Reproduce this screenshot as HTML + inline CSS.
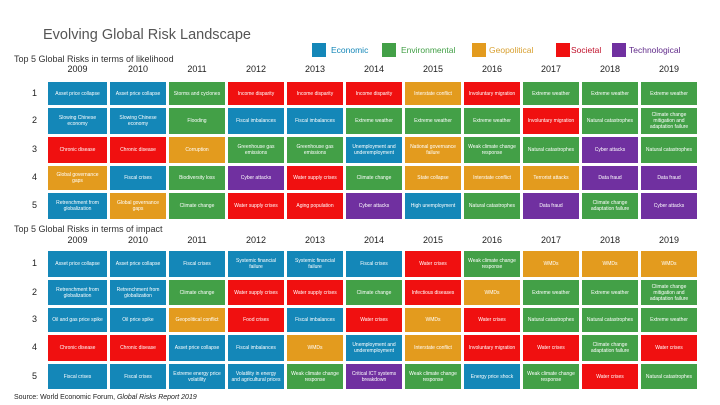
<!DOCTYPE html>
<html><head><meta charset="utf-8">
<style>
body{margin:0;width:720px;height:405px;background:#fff;position:relative;overflow:hidden;font-family:"Liberation Sans",sans-serif;}
.abs{position:absolute;}
.cell{position:absolute;display:flex;align-items:center;justify-content:center;text-align:center;color:#fff;font-size:5px;line-height:6px;padding:0 3px;box-sizing:border-box;}
.yr{position:absolute;font-size:9px;color:#222;width:56px;text-align:center;}
.rk{position:absolute;font-size:9px;color:#222;left:32px;}
.lb{position:absolute;top:43px;width:14px;height:14px;}
.lt{position:absolute;top:43px;font-size:8.5px;line-height:14px;}
</style></head><body>
<div class="abs" style="left:43px;top:27px;font-size:14.5px;color:#555;">Evolving Global Risk Landscape</div>
<div class="lb" style="left:312px;background:#1487b8"></div>
<div class="lt" style="left:331px;color:#1487b8">Economic</div>
<div class="lb" style="left:382px;background:#43a047"></div>
<div class="lt" style="left:401px;color:#43a047">Environmental</div>
<div class="lb" style="left:472px;background:#e39b1e"></div>
<div class="lt" style="left:489px;color:#d8a030">Geopolitical</div>
<div class="lb" style="left:556px;background:#f01010"></div>
<div class="lt" style="left:571px;color:#c0102a">Societal</div>
<div class="lb" style="left:612px;background:#7030a0"></div>
<div class="lt" style="left:629px;color:#602a8a">Technological</div>
<div class="abs" style="left:14px;top:54px;font-size:9px;color:#333;">Top 5 Global Risks in terms of likelihood</div>
<div class="abs" style="left:14px;top:224px;font-size:9px;color:#333;">Top 5 Global Risks in terms of impact</div>
<div class="abs" style="left:14px;top:394px;font-size:7px;color:#222;">Source: World Economic Forum, <i>Global Risks Report 2019</i></div>
<div id="grid"></div>
<script>
const years=["2009","2010","2011","2012","2013","2014","2015","2016","2017","2018","2019"];
const likelihood=[
[["Asset price collapse","E"],["Slowing Chinese economy","E"],["Chronic disease","S"],["Global governance gaps","G"],["Retrenchment from globalization","E"]],
[["Asset price collapse","E"],["Slowing Chinese economy","E"],["Chronic disease","S"],["Fiscal crises","E"],["Global governance gaps","G"]],
[["Storms and cyclones","N"],["Flooding","N"],["Corruption","G"],["Biodiversity loss","N"],["Climate change","N"]],
[["Income disparity","S"],["Fiscal imbalances","E"],["Greenhouse gas emissions","N"],["Cyber attacks","T"],["Water supply crises","S"]],
[["Income disparity","S"],["Fiscal imbalances","E"],["Greenhouse gas emissions","N"],["Water supply crises","S"],["Aging population","S"]],
[["Income disparity","S"],["Extreme weather","N"],["Unemployment and underemployment","E"],["Climate change","N"],["Cyber attacks","T"]],
[["Interstate conflict","G"],["Extreme weather","N"],["National governance failure","G"],["State collapse","G"],["High unemployment","E"]],
[["Involuntary migration","S"],["Extreme weather","N"],["Weak climate change response","N"],["Interstate conflict","G"],["Natural catastrophes","N"]],
[["Extreme weather","N"],["Involuntary migration","S"],["Natural catastrophes","N"],["Terrorist attacks","G"],["Data fraud","T"]],
[["Extreme weather","N"],["Natural catastrophes","N"],["Cyber attacks","T"],["Data fraud","T"],["Climate change adaptation failure","N"]],
[["Extreme weather","N"],["Climate change mitigation and adaptation failure","N"],["Natural catastrophes","N"],["Data fraud","T"],["Cyber attacks","T"]]];
const impact=[
[["Asset price collapse","E"],["Retrenchment from globalization","E"],["Oil and gas price spike","E"],["Chronic disease","S"],["Fiscal crises","E"]],
[["Asset price collapse","E"],["Retrenchment from globalization","E"],["Oil price spike","E"],["Chronic disease","S"],["Fiscal crises","E"]],
[["Fiscal crises","E"],["Climate change","N"],["Geopolitical conflict","G"],["Asset price collapse","E"],["Extreme energy price volatility","E"]],
[["Systemic financial failure","E"],["Water supply crises","S"],["Food crises","S"],["Fiscal imbalances","E"],["Volatility in energy and agricultural prices","E"]],
[["Systemic financial failure","E"],["Water supply crises","S"],["Fiscal imbalances","E"],["WMDs","G"],["Weak climate change response","N"]],
[["Fiscal crises","E"],["Climate change","N"],["Water crises","S"],["Unemployment and underemployment","E"],["Critical ICT systems breakdown","T"]],
[["Water crises","S"],["Infectious diseases","S"],["WMDs","G"],["Interstate conflict","G"],["Weak climate change response","N"]],
[["Weak climate change response","N"],["WMDs","G"],["Water crises","S"],["Involuntary migration","S"],["Energy price shock","E"]],
[["WMDs","G"],["Extreme weather","N"],["Natural catastrophes","N"],["Water crises","S"],["Weak climate change response","N"]],
[["WMDs","G"],["Extreme weather","N"],["Natural catastrophes","N"],["Climate change adaptation failure","N"],["Water crises","S"]],
[["WMDs","G"],["Climate change mitigation and adaptation failure","N"],["Extreme weather","N"],["Water crises","S"],["Natural catastrophes","N"]]];
const colors={E:"#1487b8",N:"#43a047",G:"#e39b1e",S:"#f01010",T:"#7030a0"};
const g=document.getElementById('grid');
function colX(i){return i===0?48:110+59*(i-1);}
function colW(i){return i===0?59:56;}
function panel(data,yearTop,rowTops,rowHs,key){
  years.forEach((y,i)=>{
    const d=document.createElement('div');d.className='yr';
    
    
    d.style.left=(colX(i)+colW(i)/2-28)+'px';d.style.top=yearTop+'px';d.textContent=y;g.appendChild(d);
  });
  rowTops.forEach((t,r)=>{
    const d=document.createElement('div');d.className='rk';
    
    
    d.style.top=(t+rowHs[r]/2-6)+'px';d.textContent=r+1;g.appendChild(d);
  });
  data.forEach((col,i)=>col.forEach((c,r)=>{
    const d=document.createElement('div');d.className='cell';
    
    
    d.style.left=colX(i)+'px';d.style.width=colW(i)+'px';
    d.style.top=rowTops[r]+'px';d.style.height=rowHs[r]+'px';
    d.style.background=colors[c[1]];d.textContent=c[0];g.appendChild(d);
  }));
}
panel(likelihood,64,[82,108,137,166,193],[23,26,26,24,26],'likelihood');
panel(impact,235,[251,280,308,335,364],[26,25,24,26,25],'impact');
</script>
</body></html>
